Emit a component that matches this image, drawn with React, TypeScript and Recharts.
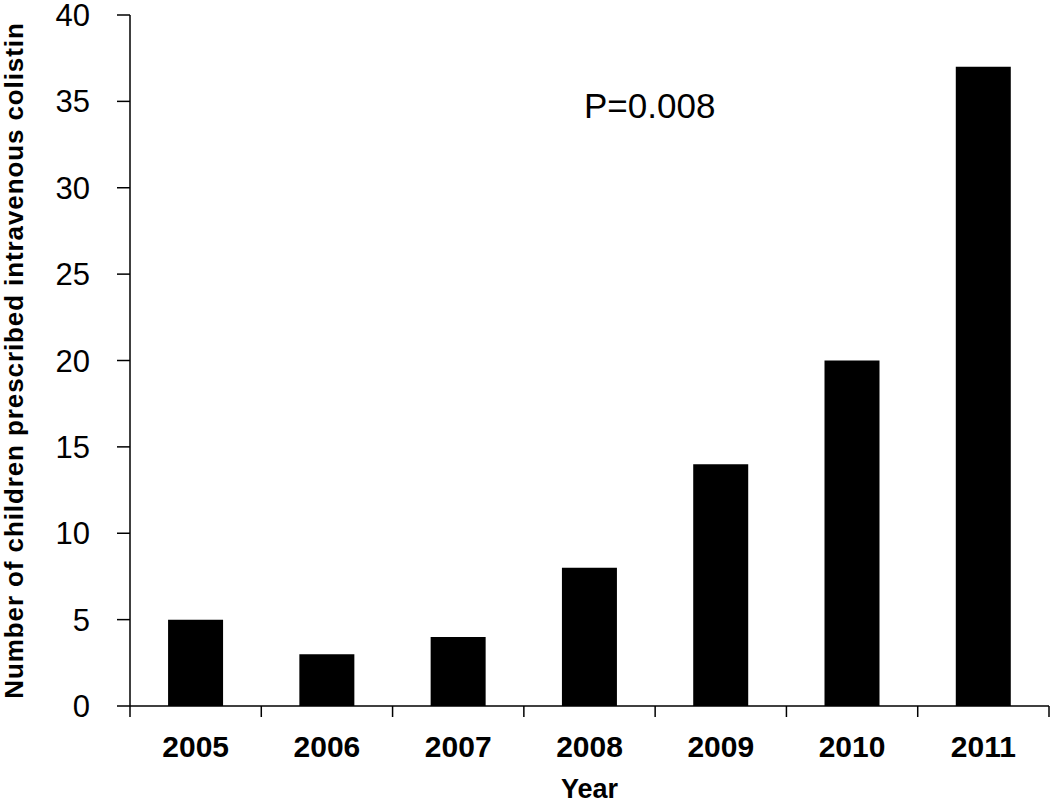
import { BarChart, Bar, XAxis, YAxis } from 'recharts';

// Children prescribed IV colistin per year
const years = ['2005', '2006', '2007', '2008', '2009', '2010', '2011'];
const children = [5, 3, 4, 8, 14, 20, 37];
const yTicks = [0, 5, 10, 15, 20, 25, 30, 35, 40];

const data = years.map((year, i) => ({ year, count: children[i] }));

const W = 1050;
const H = 801;
const margin = { top: 15, right: 1, bottom: 0, left: 0 };
const yAxisWidth = 130;
const step = (W - margin.left - margin.right - yAxisWidth) / years.length;

const font = '"Liberation Sans", Arial, sans-serif';

// category label with tick marks on the band edges
const XTick = (props: any) => {
  const { x, y, payload, index } = props;
  const last = index === years.length - 1;
  return (
    <g>
      <line x1={x - step / 2} x2={x - step / 2} y1={y - 8} y2={y + 3} stroke="#000" strokeWidth={1.5} />
      {last && <line x1={x + step / 2} x2={x + step / 2} y1={y - 8} y2={y + 3} stroke="#000" strokeWidth={1.5} />}
      <text x={x} y={y + 43} textAnchor="middle" fontFamily={font} fontWeight="bold" fontSize={30} fill="#000">
        {payload.value}
      </text>
    </g>
  );
};

export default function App() {
  return (
    <div style={{ position: 'absolute', left: 0, top: 0, width: W, height: H, background: '#fff' }}>
      <BarChart width={W} height={H} data={data} margin={margin} barCategoryGap="29%">
        <XAxis
          dataKey="year"
          axisLine={{ stroke: '#000', strokeWidth: 1.5 }}
          tickLine={false}
          tick={<XTick />}
          interval={0}
          height={95}
          label={{ value: 'Year', position: 'insideBottom', offset: 3, style: { fontFamily: font, fontWeight: 'bold', fontSize: 27, fill: '#000' } }}
        />
        <YAxis
          width={yAxisWidth}
          domain={[0, 40]}
          ticks={yTicks}
          interval={0}
          axisLine={{ stroke: '#000', strokeWidth: 1.5 }}
          tickLine={{ stroke: '#000', strokeWidth: 1.5 }}
          tickSize={13}
          tickMargin={27}
          tick={{ fontFamily: font, fontSize: 31, fill: '#000' }}
          label={{
            content: (p: any) => {
              const vb = p.viewBox;
              const cy = vb.y + vb.height / 2;
              return (
                <text
                  x={14}
                  y={cy}
                  transform={`rotate(-90 14 ${cy})`}
                  textAnchor="middle"
                  dominantBaseline="central"
                  fontFamily={font}
                  fontWeight="bold"
                  fontSize={26}
                  letterSpacing={0.9}
                  fill="#000"
                >
                  Number of children prescribed intravenous colistin
                </text>
              );
            },
          }}
        />
        <Bar dataKey="count" fill="#000" isAnimationActive={false} />
      </BarChart>
      <div
        style={{
          position: 'absolute',
          left: 584,
          top: 86,
          fontFamily: font,
          fontSize: 35,
          lineHeight: '40px',
          color: '#000',
        }}
      >
        P=0.008
      </div>
    </div>
  );
}
